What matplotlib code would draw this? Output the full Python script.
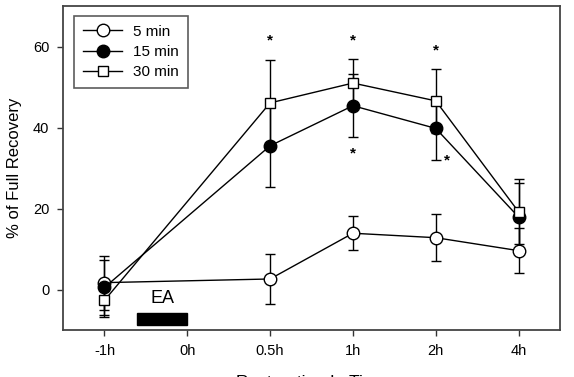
import matplotlib
matplotlib.use("Agg")
import matplotlib.pyplot as plt
from matplotlib.patches import Rectangle

plt.rcParams['font.family'] = ['Liberation Sans', 'DejaVu Sans']

tick_labels = ["-1h", "0h", "0.5h", "1h", "2h", "4h"]
data_pos = [0, 2, 3, 4, 5]  # indices into tick_labels where data exist

min5 = [1.7, 2.6, 13.9, 12.8, 9.6]
min5_err = [6.7, 6.1, 4.2, 5.8, 5.6]
min15 = [0.5, 35.5, 45.4, 39.8, 17.9]
min15_err = [6.8, 10.3, 7.8, 7.7, 8.5]
min30 = [-2.7, 46.1, 51.0, 46.6, 19.2]
min30_err = [4.0, 10.7, 6.0, 7.9, 8.0]

series_labels = ["5 min", "15 min", "30 min"]

# significance stars: (x position, y value)
star_x = [2, 3, 4, 3, 4.14]
star_y = [61.5, 61.5, 59.0, 33.5, 32.0]

ea_start, ea_end = 0.39, 1.0

fig = plt.figure(figsize=(5.74, 3.77), dpi=100)
ax = fig.add_axes([0.1098, 0.1247, 0.8658, 0.859])

x = [i for i in data_pos]
kw = dict(color='black', lw=1.0, capsize=3.5, elinewidth=1.0, capthick=1.0,
          markeredgecolor='black', markeredgewidth=1.0, zorder=3)
e1 = ax.errorbar(x, min5, yerr=min5_err, marker='o', ms=9, markerfacecolor='white', **kw)
e2 = ax.errorbar(x, min15, yerr=min15_err, marker='o', ms=9, markerfacecolor='black', **kw)
e3 = ax.errorbar(x, min30, yerr=min30_err, marker='s', ms=7.5, markerfacecolor='white', **kw)

for sx, sy in zip(star_x, star_y):
    ax.text(sx, sy, "*", ha='center', va='center', fontsize=11, fontweight='bold')

ax.add_patch(Rectangle((ea_start, -8.7), ea_end - ea_start, 3.0, facecolor='black',
                       edgecolor='black', zorder=3))
ax.text((ea_start + ea_end) / 2, -2.2, "EA", ha='center', va='center', fontsize=13)

ax.set_xlim(-0.5, 5.5)
ax.set_ylim(-10, 70)
ax.set_xticks(range(len(tick_labels)))
ax.set_xticklabels(tick_labels)
ax.set_yticks([0, 20, 40, 60])
ax.tick_params(direction='out', length=4, width=1, labelsize=10.5, color='#333333', pad=6)
for s in ax.spines.values():
    s.set_linewidth(1.3)
    s.set_color('#444444')

ax.set_ylabel("% of Full Recovery", fontsize=12, labelpad=8)
ax.set_xlabel("Restoration In Time", fontsize=12.5, labelpad=12)

leg = ax.legend([e1[0], e2[0], e3[0]], series_labels, loc='upper left',
                bbox_to_anchor=(0.012, 0.985), fontsize=11,
                frameon=True, fancybox=False, edgecolor='#333333', handlelength=2.6,
                borderpad=0.6, labelspacing=0.4, handletextpad=0.7, borderaxespad=0.3)
leg.get_frame().set_linewidth(1.2)

fig.savefig("out.png", dpi=100)
